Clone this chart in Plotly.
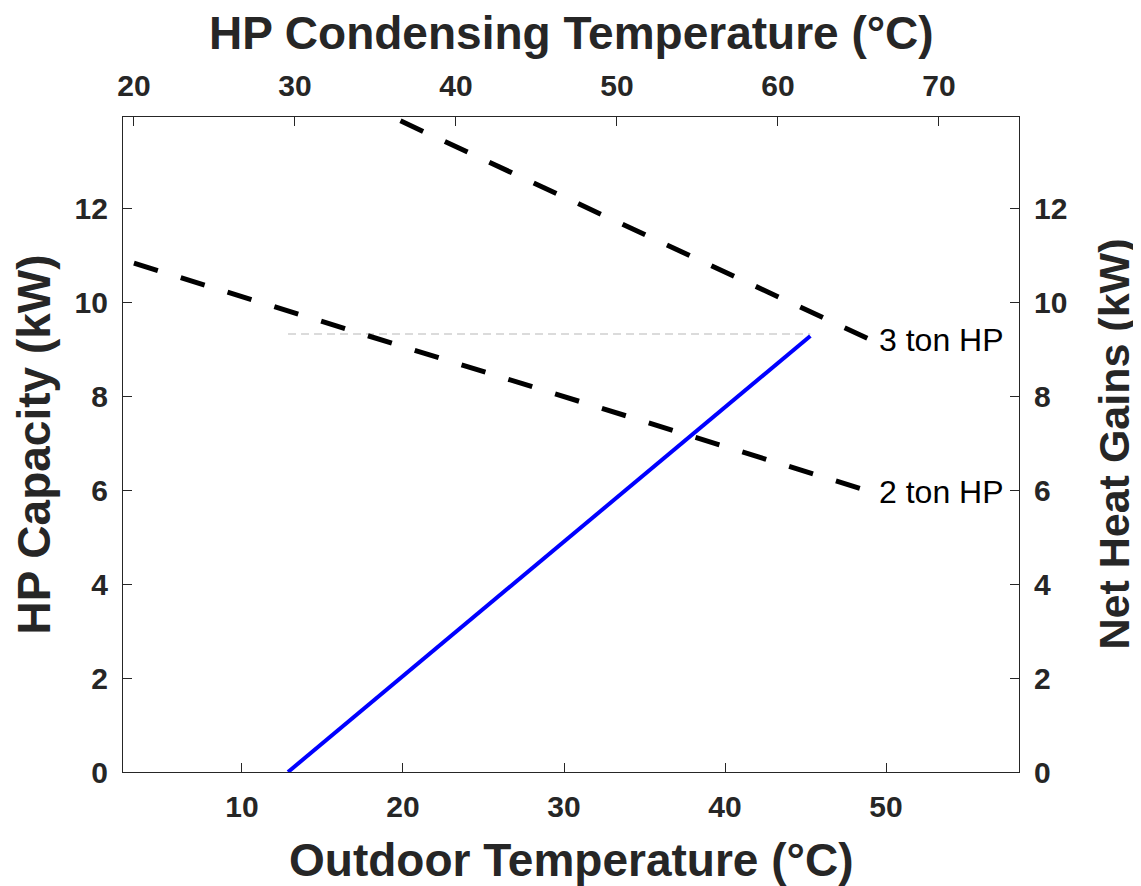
import plotly.graph_objects as go

# Data
cond_temp_2ton = [20.0, 65.8]          # HP condensing temperature (°C), top axis
cap_2ton = [10.83, 5.96]               # kW
cond_temp_3ton = [20.0, 65.8]
cap_3ton = [16.5, 9.19]
outdoor_temp = [12.86, 45.3]           # outdoor temperature (°C), bottom axis
net_heat_gains = [0.0, 9.28]           # kW
ref_level_x = [12.86, 45.3]
ref_level_y = [9.32, 9.32]
labels = ["2 ton HP", "3 ton HP"]

x_bottom_range = [2.61, 58.26]
x_top_range = [19.32, 74.97]
y_range = [0, 13.94]
x_bottom_ticks = [10, 20, 30, 40, 50]
x_top_ticks = [20, 30, 40, 50, 60, 70]
y_ticks = [0, 2, 4, 6, 8, 10, 12]

AX = "#262626"
FONT = "Liberation Sans, Arial, sans-serif"

fig = go.Figure()
fig.add_trace(go.Scatter(x=ref_level_x, y=ref_level_y, mode="lines",
                         line=dict(color="#cfcfcf", width=1.5, dash="8px,5px"),
                         xaxis="x", yaxis="y", showlegend=False))
fig.add_trace(go.Scatter(x=outdoor_temp, y=net_heat_gains, mode="lines",
                         line=dict(color="#0000ff", width=4),
                         xaxis="x", yaxis="y", showlegend=False))
fig.add_trace(go.Scatter(x=cond_temp_2ton, y=cap_2ton, mode="lines",
                         line=dict(color="black", width=5, dash="25px,24px"),
                         xaxis="x2", yaxis="y", showlegend=False))
fig.add_trace(go.Scatter(x=cond_temp_3ton, y=cap_3ton, mode="lines",
                         line=dict(color="black", width=5, dash="25px,24px"),
                         xaxis="x2", yaxis="y", showlegend=False))
# invisible trace to activate right y axis
fig.add_trace(go.Scatter(x=[x_bottom_range[0]], y=[y_range[0]], mode="markers",
                         marker=dict(opacity=0), xaxis="x", yaxis="y2",
                         showlegend=False, hoverinfo="skip"))

for xs, ys, lab in [(cond_temp_2ton, cap_2ton, labels[0]), (cond_temp_3ton, cap_3ton, labels[1])]:
    fig.add_annotation(x=xs[-1], y=ys[-1], xref="x2", yref="y", text=lab,
                       showarrow=False, xanchor="left", yanchor="middle", xshift=6,
                       font=dict(family=FONT, size=32, color="black"))

titlefont = dict(family=FONT, size=46, color=AX, weight="bold")
# axis titles as annotations for precise placement
fig.add_annotation(text="Outdoor Temperature (°C)", xref="paper", yref="paper", x=0.5, y=0,
                   yshift=-88, showarrow=False, xanchor="center", yanchor="middle", font=titlefont)
fig.add_annotation(text="HP Condensing Temperature (°C)", xref="paper", yref="paper", x=0.5, y=1,
                   yshift=84, showarrow=False, xanchor="center", yanchor="middle", font=titlefont)
fig.add_annotation(text="HP Capacity (kW)", xref="paper", yref="paper", x=0, y=0.5,
                   xshift=-90, showarrow=False, textangle=-90, xanchor="center", yanchor="middle",
                   font=titlefont)
fig.add_annotation(text="Net Heat Gains (kW)", xref="paper", yref="paper", x=1, y=0.5,
                   xshift=94, showarrow=False, textangle=-90, xanchor="center", yanchor="middle",
                   font=dict(family=FONT, size=43, color=AX, weight="bold"))

tickfont = dict(family=FONT, size=30, color=AX, weight="bold")
common = dict(showgrid=False, zeroline=False, showline=True, linecolor=AX, linewidth=1.2,
              ticks="inside", ticklen=9, tickcolor=AX, tickwidth=1.2, tickfont=tickfont,
              ticklabelstandoff=8)

fig.update_layout(
    width=1141, height=886,
    margin=dict(l=115, r=130, t=109, b=122),
    paper_bgcolor="white", plot_bgcolor="white",
    xaxis=dict(range=x_bottom_range, tickvals=x_bottom_ticks, side="bottom", **common),
    xaxis2=dict(range=x_top_range, tickvals=x_top_ticks, side="top", overlaying="x",
                anchor="y", **common),
    yaxis=dict(range=y_range, tickvals=y_ticks, side="left", **common),
    yaxis2=dict(range=y_range, tickvals=y_ticks, side="right", overlaying="y",
                anchor="x", **common),
)

fig.write_html("out.html")
